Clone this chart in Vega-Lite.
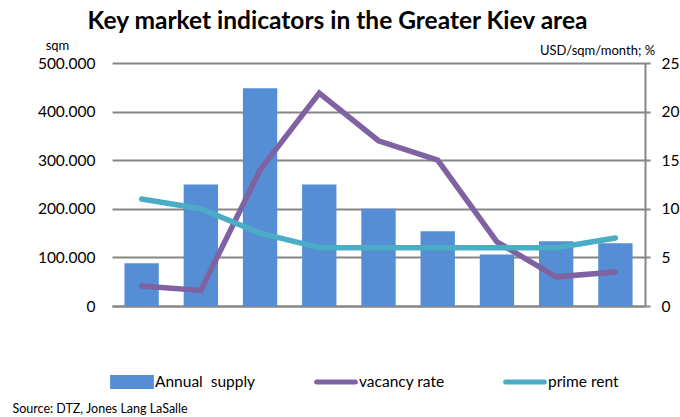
{
  "$schema": "https://vega.github.io/schema/vega-lite/v6.json",
  "width": 533,
  "height": 243,
  "autosize": {"type": "none"},
  "padding": {"left": 112, "top": 63, "right": 35, "bottom": 111},
  "background": "white",
  "config": {
    "font": "Lato",
    "view": {"stroke": null},
    "axis": {"labelFont": "Lato", "titleFont": "Lato", "labelColor": "#000", "titleColor": "#000"}
  },
  "title": {
    "text": "Key market indicators in the Greater Kiev area",
    "font": "Lato",
    "fontSize": 24.5,
    "fontWeight": "bold",
    "color": "#000",
    "anchor": "middle",
    "frame": "group",
    "dx": -41,
    "offset": 5
  },
  "data": {
    "values": [
      {"cat": "2005", "supply": 88000, "vacancy": 2.05, "rent": 11},
      {"cat": "2006", "supply": 250000, "vacancy": 1.6, "rent": 10},
      {"cat": "2007", "supply": 448000, "vacancy": 14, "rent": 7.5},
      {"cat": "2008", "supply": 250000, "vacancy": 21.9, "rent": 6},
      {"cat": "2009", "supply": 200000, "vacancy": 17, "rent": 6},
      {"cat": "2010", "supply": 154000, "vacancy": 15, "rent": 6},
      {"cat": "2011", "supply": 106000, "vacancy": 6.6, "rent": 6},
      {"cat": "2012", "supply": 133000, "vacancy": 3, "rent": 6},
      {"cat": "2013", "supply": 129000, "vacancy": 3.5, "rent": 7}
    ]
  },
  "encoding": {
    "x": {
      "field": "cat",
      "type": "nominal",
      "sort": null,
      "scale": {"paddingInner": 0.42, "paddingOuter": 0.21},
      "axis": {
        "labels": false,
        "ticks": false,
        "domain": true,
        "domainColor": "#868686",
        "domainWidth": 2,
        "title": "Source: DTZ, Jones Lang LaSalle",
        "titleFontSize": 12.5,
        "titleFontWeight": "normal",
        "titleAlign": "left",
        "titleBaseline": "middle",
        "titleX": -100,
        "titleY": 102
      }
    }
  },
  "layer": [
    {
      "mark": {"type": "bar", "color": "#558ED5"},
      "encoding": {
        "y": {
          "field": "supply",
          "type": "quantitative",
          "scale": {"domain": [0, 500000], "nice": false},
          "axis": {
            "values": [0, 100000, 200000, 300000, 400000, 500000],
            "labelExpr": "replace(format(datum.value, ','), ',', '.')",
            "labelFontSize": 15.5,
            "labelPadding": 17,
            "ticks": false,
            "domain": false,
            "grid": true,
            "gridColor": "#868686",
            "gridWidth": 2,
            "title": "sqm",
            "titleAngle": 0,
            "titleFontSize": 13,
            "titleFontWeight": "normal",
            "titleAlign": "center",
            "titleBaseline": "middle",
            "titleX": -55,
            "titleY": -18
          }
        },
        "color": {
          "datum": "Annual supply",
          "scale": {
            "domain": ["Annual supply", "vacancy rate", "prime rent"],
            "range": ["#558ED5", "#7F62A1", "#4BACC6"]
          },
          "legend": {
            "title": null,
            "orient": "none",
            "legendX": -2,
            "legendY": 297,
            "direction": "horizontal",
            "columns": 3,
            "gridAlign": "none",
            "columnPadding": 50,
            "padding": 0,
            "labelFont": "Lato",
            "labelFontSize": 15.5,
            "labelColor": "#000",
            "labelOffset": 1,
            "symbolSize": 1500,
            "symbolStrokeWidth": 5,
            "labelExpr": "datum.label == 'Annual supply' ? 'Annual\u00a0 supply' : datum.label",
            "encode": {
              "symbols": {
                "update": {
                  "shape": {"signal": "datum.value == 'Annual supply' ? 'M-1,-0.23H1V0.23H-1Z' : 'stroke'"},
                  "fill": {"signal": "datum.value == 'Annual supply' ? '#558ED5' : 'transparent'"},
                  "stroke": {"signal": "datum.value == 'Annual supply' ? 'transparent' : scale('color', datum.value)"},
                  "strokeWidth": {"value": 5},
                  "strokeCap": {"value": "round"},
                  "opacity": {"value": 1}
                }
              }
            }
          }
        }
      }
    },
    {
      "layer": [
        {
          "mark": {"type": "line", "strokeWidth": 5.5, "strokeCap": "round", "strokeJoin": "miter"},
          "encoding": {
            "y": {"field": "vacancy", "type": "quantitative"},
            "color": {"datum": "vacancy rate"}
          }
        },
        {
          "mark": {"type": "line", "strokeWidth": 5.5, "strokeCap": "round", "strokeJoin": "round"},
          "encoding": {
            "y": {"field": "rent", "type": "quantitative"},
            "color": {"datum": "prime rent"}
          }
        }
      ],
      "encoding": {
        "y": {
          "type": "quantitative",
          "scale": {"domain": [0, 25], "nice": false},
          "axis": {
            "orient": "right",
            "values": [0, 5, 10, 15, 20, 25],
            "labelFontSize": 15.5,
            "labelPadding": 11,
            "ticks": true,
            "tickSize": 5,
            "tickColor": "#868686",
            "tickWidth": 2,
            "domain": true,
            "domainColor": "#868686",
            "domainWidth": 2,
            "grid": false,
            "title": "USD/sqm/month; %",
            "titleAngle": 0,
            "titleFontSize": 13,
            "titleFontWeight": "normal",
            "titleAlign": "center",
            "titleBaseline": "middle",
            "titleX": -48,
            "titleY": -13
          }
        }
      }
    }
  ],
  "resolve": {"scale": {"y": "independent"}}
}
